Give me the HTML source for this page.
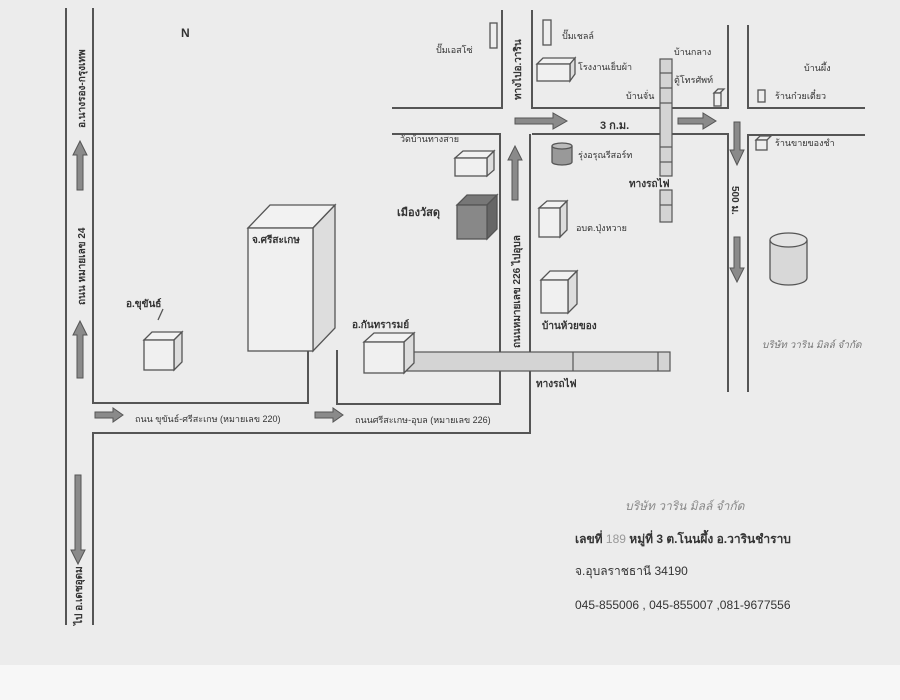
<!DOCTYPE html>
<html><head><meta charset="utf-8"><style>
body{margin:0;background:#fff}
svg{display:block}
text{font-family:"Liberation Sans","Noto Sans CJK SC",sans-serif;fill:#333}
.b{font-weight:bold}
</style></head><body>
<svg width="900" height="700" viewBox="0 0 900 700" xmlns="http://www.w3.org/2000/svg">
<rect width="900" height="700" fill="#f7f7f7"/>
<rect width="900" height="665" fill="#ececec"/>
<g stroke="#555" stroke-width="2" fill="none">
<line x1="66" y1="8" x2="66" y2="625"/>
<polyline points="93,8 93,403 308,403 308,350"/>
<polyline points="93,625 93,433 530,433 530,134"/>
<polyline points="337,350 337,404 500,404 500,134 392,134"/>
<polyline points="392,108 502,108 502,10"/>
<polyline points="532,10 532,108 728,108 728,25"/>
<polyline points="532,134 728,134 728,392"/>
<polyline points="748,25 748,108 865,108"/>
<polyline points="865,135 748,135 748,392"/>
</g>
<g fill="#8a8a8a" stroke="#555" stroke-width="1">
<path d="M77,190 V155 H73 L80,141 L87,155 H83 V190 Z"/>
<path d="M77,378 V335 H73 L80,321 L87,335 H83 V378 Z"/>
<path d="M75,475 V550 H71 L78,564 L85,550 H81 V475 Z"/>
<path d="M95,412 H113 V408 L123,415 L113,422 V418 H95 Z"/>
<path d="M315,412 H333 V408 L343,415 L333,422 V418 H315 Z"/>
<path d="M515,118 H553 V113 L567,121 L553,129 V124 H515 Z"/>
<path d="M678,118 H703 V113 L716,121 L703,129 V124 H678 Z"/>
<path d="M512,200 V160 H508 L515,146 L522,160 H518 V200 Z"/>
<path d="M734,122 V150 H730 L737,165 L744,150 H740 V122 Z"/>
<path d="M734,237 V268 H730 L737,282 L744,268 H740 V237 Z"/>
</g>
<g fill="#d4d4d4" stroke="#555" stroke-width="1.2">
<rect x="404" y="352" width="266" height="19"/>
<line x1="573" y1="352" x2="573" y2="371"/><line x1="658" y1="352" x2="658" y2="371"/>
<rect x="660" y="59" width="12" height="117"/>
<rect x="660" y="190" width="12" height="32"/>
</g>
<g stroke="#555" stroke-width="1.2">
<line x1="660" y1="73" x2="672" y2="73"/><line x1="660" y1="88" x2="672" y2="88"/><line x1="660" y1="103" x2="672" y2="103"/>
<line x1="660" y1="147" x2="672" y2="147"/><line x1="660" y1="162" x2="672" y2="162"/><line x1="660" y1="205" x2="672" y2="205"/>
</g>
<g stroke="#555" stroke-width="1.3">
<path d="M248,228 L270,205 H335 L313,228 Z" fill="#f2f2f2"/><path d="M313,228 L335,205 V328 L313,351 Z" fill="#ddd"/><rect x="248" y="228" width="65" height="123" fill="#f0f0f0"/>
<path d="M144,340 L152,332 H182 L174,340 Z" fill="#f2f2f2"/><path d="M174,340 L182,332 V362 L174,370 Z" fill="#ddd"/><rect x="144" y="340" width="30" height="30" fill="#f0f0f0"/>
<path d="M364,342 L374,333 H414 L404,342 Z" fill="#f2f2f2"/><path d="M404,342 L414,333 V363 L404,373 Z" fill="#ddd"/><rect x="364" y="342" width="40" height="31" fill="#f0f0f0"/>
<path d="M455,158 L463,151 H494 L487,158 Z" fill="#f2f2f2"/><path d="M487,158 L494,151 V170 L487,176 Z" fill="#ddd"/><rect x="455" y="158" width="32" height="18" fill="#f0f0f0"/>
<path d="M457,205 L467,195 H497 L487,205 Z" fill="#777"/><path d="M487,205 L497,195 V229 L487,239 Z" fill="#666"/><rect x="457" y="205" width="30" height="34" fill="#888"/>
<rect x="490" y="23" width="7" height="25" fill="#eee"/><rect x="543" y="20" width="8" height="25" fill="#eee"/>
<path d="M537,64 L543,58 H575 L570,64 Z" fill="#f2f2f2"/><path d="M570,64 L575,58 V74 L570,81 Z" fill="#ddd"/><rect x="537" y="64" width="33" height="17" fill="#f0f0f0"/>
<path d="M539,208 L547,201 H567 L560,208 Z" fill="#f2f2f2"/><path d="M560,208 L567,201 V230 L560,237 Z" fill="#ddd"/><rect x="539" y="208" width="21" height="29" fill="#f0f0f0"/>
<path d="M541,280 L550,271 H577 L568,280 Z" fill="#f2f2f2"/><path d="M568,280 L577,271 V304 L568,313 Z" fill="#ddd"/><rect x="541" y="280" width="27" height="33" fill="#f0f0f0"/>
<path d="M714,93 L718,89 H724 L720,93 Z" fill="#eee"/><rect x="714" y="93" width="7" height="13" fill="#eee"/>
<rect x="758" y="90" width="7" height="12" fill="#eee"/>
<path d="M756,140 L760,136 H771 L767,140 Z" fill="#eee"/><rect x="756" y="140" width="11" height="10" fill="#eee"/>
<path d="M552,146 V162 A10,3 0 0 0 572,162 V146" fill="#999"/><ellipse cx="562" cy="146" rx="10" ry="3" fill="#bbb"/>
<path d="M770,240 V278 A18.5,7 0 0 0 807,278 V240" fill="#d8d8d8"/><ellipse cx="788.5" cy="240" rx="18.5" ry="7" fill="#e4e4e4"/>
<line x1="163" y1="309" x2="158" y2="320"/>
</g>
<text x="181" y="37" class="b" font-size="12">N</text>
<g font-size="10" class="b">
<text transform="translate(85,128) rotate(-90)">อ.นางรอง-กรุงเทพ</text>
<text transform="translate(85,305) rotate(-90)">ถนน หมายเลข 24</text>
<text transform="translate(82,625) rotate(-90)">ไป อ.เดชอุดม</text>
<text transform="translate(520,348) rotate(-90)">ถนนหมายเลข 226 ไปอุบล</text>
<text transform="translate(521,100) rotate(-90)">ทางไปอ.วาริน</text>
<text transform="translate(732,186) rotate(90)">500 ม.</text>
<text x="252" y="243">จ.ศรีสะเกษ</text>
<text x="126" y="307">อ.ขุขันธ์</text>
<text x="352" y="328">อ.กันทรารมย์</text>
<text x="536" y="387">ทางรถไฟ</text>
<text x="629" y="187">ทางรถไฟ</text>
<text x="397" y="216" font-size="11">เมืองวัสดุ</text>
<text x="542" y="329">บ้านห้วยของ</text>
<text x="600" y="129" font-size="11">3 ก.ม.</text>
</g>
<g font-size="9">
<text x="400" y="142">วัดบ้านทางสาย</text>
<text x="436" y="53">ปั๊มเอสโซ่</text>
<text x="562" y="39">ปั๊มเชลล์</text>
<text x="578" y="70">โรงงานเย็บผ้า</text>
<text x="578" y="158">รุ่งอรุณรีสอร์ท</text>
<text x="576" y="231">อบต.ปุ่งหวาย</text>
<text x="674" y="55">บ้านกลาง</text>
<text x="674" y="83">ตู้โทรศัพท์</text>
<text x="626" y="99">บ้านจั่น</text>
<text x="804" y="71">บ้านผึ้ง</text>
<text x="775" y="99">ร้านก๋วยเตี๋ยว</text>
<text x="775" y="146">ร้านขายของชำ</text>
<text x="135" y="422">ถนน ขุขันธ์-ศรีสะเกษ (หมายเลข 220)</text>
<text x="355" y="423">ถนนศรีสะเกษ-อุบล (หมายเลข 226)</text>
</g>
<text x="762" y="348" font-size="10" font-style="italic" style="fill:#777">บริษัท วาริน มิลล์ จำกัด</text>
<text x="625" y="510" font-size="12" font-style="italic" style="fill:#888">บริษัท วาริน มิลล์ จำกัด</text>
<g font-size="12">
<text x="575" y="543"><tspan class="b">เลขที่</tspan> <tspan style="fill:#999">189</tspan> <tspan class="b">หมู่ที่ 3  ต.โนนผึ้ง    อ.วารินชำราบ</tspan></text>
<text x="575" y="575">จ.อุบลราชธานี  34190</text>
<text x="575" y="609">045-855006 , 045-855007 ,081-9677556</text>
</g>
</svg>
</body></html>
